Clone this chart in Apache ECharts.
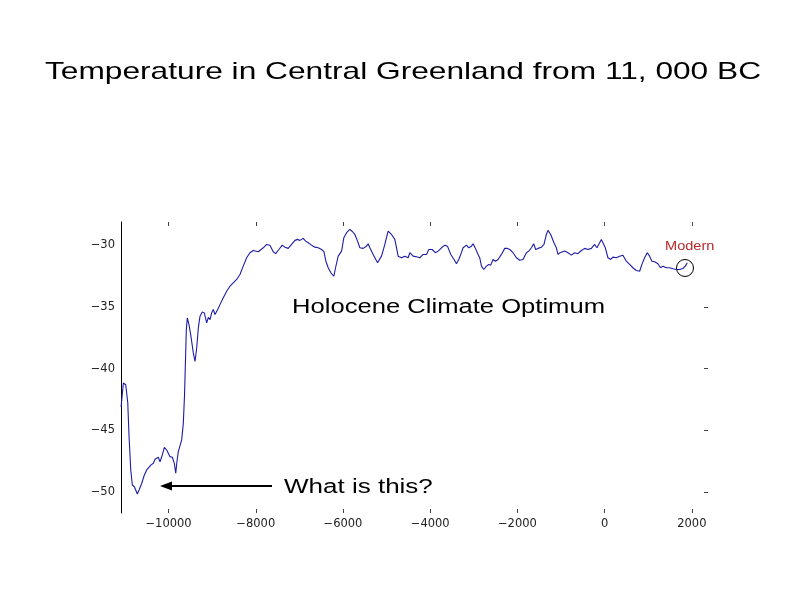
<!DOCTYPE html>
<html>
<head>
<meta charset="utf-8">
<script src="https://cdn.jsdelivr.net/npm/echarts@6/dist/echarts.min.js"></script>
<style>
  html, body { margin: 0; padding: 0; background: #fff; }
  #chart { width: 794px; height: 595px; }
</style>
</head>
<body>
<div id="chart"></div>
<script>
// years (BC negative)
var years = [
  -11088, -11036, -10981, -10935, -10905, -10866, -10830, -10784, -10752, -10715,
  -10676, -10614, -10555, -10500, -10463, -10401, -10348, -10310, -10271, -10234,
  -10195, -10142, -10096, -10042, -10005, -9966, -9913, -9867, -9835, -9805,
  -9776, -9737, -9698, -9661, -9634, -9611, -9592, -9570, -9531, -9492,
  -9432, -9393, -9354, -9317, -9279, -9226, -9180, -9125, -9088, -9049,
  -9011, -8974, -8935, -8873, -8820, -8745, -8667, -8591, -8516, -8438,
  -8362, -8287, -8209, -8133, -8057, -8019, -7943, -7904, -7828, -7751,
  -7675, -7599, -7544, -7469, -7393, -7331, -7256, -7178, -7102, -7040,
  -6988, -6912, -6857, -6797, -6720, -6644, -6568, -6491, -6438, -6392,
  -6339, -6277, -6209, -6170, -6110, -6032, -5980, -5918, -5842, -5780,
  -5728, -5666, -5613, -5537, -5460, -5423, -5384, -5308, -5207, -5116,
  -5040, -4965, -4887, -4811, -4735, -4658, -4582, -4506, -4467, -4392,
  -4314, -4238, -4163, -4085, -4032, -3956, -3879, -3819, -3741, -3666,
  -3604, -3528, -3453, -3398, -3345, -3299, -3246, -3168, -3116, -3054,
  -3017, -2962, -2903, -2864, -2825, -2772, -2710, -2658, -2612, -2559,
  -2504, -2444, -2367, -2291, -2229, -2176, -2101, -2023, -1947, -1872,
  -1794, -1741, -1679, -1627, -1581, -1528, -1450, -1391, -1336, -1299,
  -1237, -1162, -1107, -1070, -1024, -916, -841, -763, -687, -612,
  -534, -458, -383, -305, -229, -176, -115, -76, -39, 16,
  76, 137, 190, 268, 344, 419, 497, 573, 648, 726,
  802, 855, 916, 978, 1031, 1084, 1146, 1221, 1283, 1336,
  1413, 1489, 1565, 1643, 1718, 1794, 1849, 1895
];
// temperature (deg C)
var temps = [
  -43.09, -41.16, -41.30, -42.76, -45.53, -48.21, -49.43, -49.57, -49.51, -50.16,
  -49.84, -49.29, -48.62, -48.21, -48.27, -47.80, -47.67, -47.34, -47.46, -47.18,
  -47.54, -46.99, -46.37, -46.59, -46.53, -47.13, -47.18, -47.67, -48.48, -47.46,
  -46.72, -46.85, -45.77, -44.41, -42.20, -39.27, -36.83, -35.88, -36.42, -37.24,
  -38.72, -39.41, -38.32, -36.69, -35.75, -35.39, -35.47, -36.28, -35.83, -36.02,
  -35.47, -35.20, -35.61, -35.20, -34.80, -34.25, -33.72, -33.31, -33.03, -32.76,
  -32.36, -31.68, -31.00, -30.59, -30.41, -30.46, -30.51, -30.67, -30.19, -29.92,
  -29.98, -30.51, -30.67, -30.33, -29.98, -30.14, -30.24, -29.92, -29.59, -29.51,
  -29.59, -29.43, -29.65, -29.78, -29.98, -30.14, -30.19, -30.33, -30.51, -31.28,
  -31.81, -32.22, -32.50, -31.81, -30.87, -30.46, -29.37, -28.97, -28.70, -28.89,
  -29.11, -29.65, -30.19, -30.24, -30.06, -29.86, -30.19, -30.73, -31.41, -30.87,
  -29.92, -28.84, -29.11, -29.51, -30.87, -31.00, -30.87, -31.00, -30.59, -30.87,
  -30.92, -31.00, -30.73, -30.73, -30.33, -30.33, -30.59, -30.46, -30.19, -29.98,
  -30.06, -30.73, -31.14, -31.49, -31.14, -30.73, -30.19, -29.98, -30.19, -30.06,
  -29.86, -30.24, -30.73, -31.00, -31.68, -31.95, -31.68, -31.54, -31.60, -31.14,
  -31.28, -31.14, -30.73, -30.24, -30.24, -30.33, -30.59, -31.00, -31.20, -31.14,
  -30.59, -30.46, -30.19, -29.86, -30.33, -30.24, -30.14, -29.92, -29.11, -28.78,
  -29.11, -29.78, -30.19, -30.73, -30.59, -30.46, -30.59, -30.79, -30.59, -30.67,
  -30.41, -30.24, -30.33, -30.24, -29.92, -30.19, -29.78, -29.51, -29.78, -30.19,
  -31.00, -31.14, -30.95, -31.00, -30.87, -30.79, -31.28, -31.54, -31.81, -32.03,
  -32.09, -31.54, -31.00, -30.59, -30.87, -31.28, -31.33, -31.49, -31.81, -31.68,
  -31.81, -31.81, -31.89, -31.95, -31.95, -31.87, -31.68, -31.41
];

var xTicks = [-10000, -8000, -6000, -4000, -2000, 0, 2000];
var yTicks = [-50, -45, -40, -35, -30];

var FONT = "Liberation Sans";
var TICK_FONT = "DejaVu Sans";

function minusSign(v) {
  return String(v).replace("-", "\u2212");
}

var myChart = echarts.init(document.getElementById("chart"));

var tickStyle = { color: "#444", width: 1 };

var option = {
  backgroundColor: "#fff",
  animation: false,
  grid: { left: 121, right: 86, top: 222, bottom: 82 },
  xAxis: [
    {
      type: "value",
      position: "bottom",
      min: -11090,
      max: 2370,
      axisLine: { show: false, onZero: false },
      splitLine: { show: false },
      axisTick: { show: true, inside: true, length: 4, lineStyle: tickStyle, customValues: xTicks },
      axisLabel: {
        customValues: xTicks,
        formatter: minusSign,
        margin: 5,
        fontFamily: TICK_FONT,
        fontSize: 11.5,
        color: "#222",
      },
    },
    {
      type: "value",
      position: "top",
      min: -11090,
      max: 2370,
      axisLine: { show: false, onZero: false },
      splitLine: { show: false },
      axisTick: { show: true, inside: true, length: 4, lineStyle: tickStyle, customValues: xTicks },
      axisLabel: { show: false },
    },
  ],
  yAxis: [
    {
      type: "value",
      position: "left",
      min: -51.7,
      max: -28.1,
      axisLine: { show: true, onZero: false, lineStyle: { color: "#000", width: 1 } },
      splitLine: { show: false },
      axisTick: { show: false },
      axisLabel: {
        customValues: yTicks,
        formatter: minusSign,
        margin: 6,
        fontFamily: TICK_FONT,
        fontSize: 11.5,
        color: "#222",
      },
    },
    {
      type: "value",
      position: "right",
      min: -51.7,
      max: -28.1,
      axisLine: { show: false, onZero: false },
      splitLine: { show: false },
      axisTick: { show: true, inside: true, length: 4, lineStyle: tickStyle, customValues: yTicks },
      axisLabel: { show: false },
    },
  ],
  series: [
    {
      name: "temperature",
      type: "line",
      data: years.map(function (y, i) { return [y, temps[i]]; }),
      symbol: "none",
      smooth: false,
      lineStyle: { color: "#1c1ca8", width: 1.1 },
      z: 3,
    },
  ],
  // slide text is stretched horizontally, hence the scaleX values
  graphic: [
    {
      type: "text",
      x: 403,
      y: 72,
      scaleX: 1.32,
      style: {
        text: "Temperature in Central Greenland from 11, 000 BC",
        font: "24px '" + FONT + "'",
        fill: "#000",
        align: "center",
        verticalAlign: "middle",
      },
    },
    {
      type: "text",
      x: 292,
      y: 307,
      scaleX: 1.28,
      style: {
        text: "Holocene Climate Optimum",
        font: "20px '" + FONT + "'",
        fill: "#000",
        align: "left",
        verticalAlign: "middle",
      },
    },
    {
      type: "text",
      x: 284,
      y: 487,
      scaleX: 1.3,
      style: {
        text: "What is this?",
        font: "20px '" + FONT + "'",
        fill: "#000",
        align: "left",
        verticalAlign: "middle",
      },
    },
    {
      type: "line",
      shape: { x1: 272, y1: 486, x2: 170, y2: 486 },
      style: { stroke: "#000", lineWidth: 2 },
    },
    {
      type: "polygon",
      shape: { points: [[160, 486], [172, 481.5], [172, 490.5]] },
      style: { fill: "#000" },
    },
    {
      type: "text",
      x: 665,
      y: 246,
      scaleX: 1.12,
      z: 10,
      style: {
        text: "Modern",
        font: "13px '" + FONT + "'",
        fill: "#b52a2a",
        backgroundColor: "#fff",
        align: "left",
        verticalAlign: "middle",
      },
    },
    {
      type: "circle",
      shape: { cx: 685, cy: 268, r: 8.5 },
      style: { fill: "none", stroke: "#000", lineWidth: 1 },
    },
  ],
};

myChart.setOption(option);
</script>
</body>
</html>
